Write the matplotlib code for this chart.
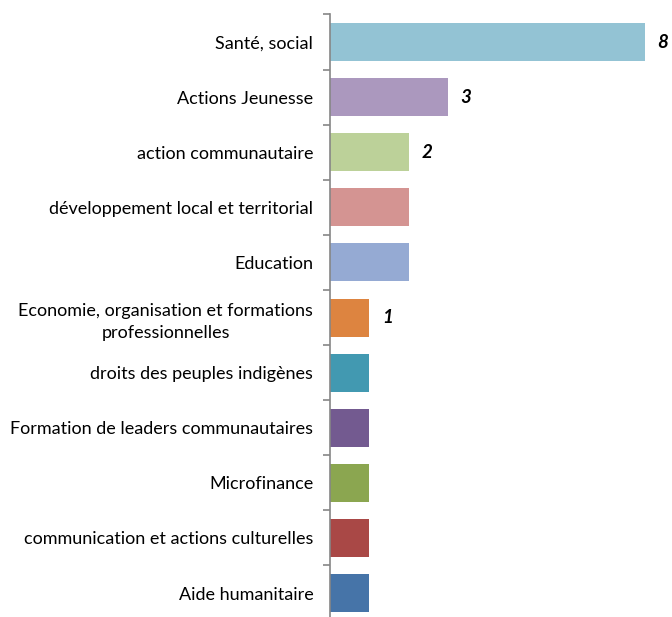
import matplotlib
matplotlib.use("Agg")
import matplotlib.pyplot as plt
import numpy as np

# categories, top to bottom
categories = ["Santé, social", "Actions Jeunesse", "action communautaire",
              "développement local et territorial", "Education",
              "Economie, organisation et formations\nprofessionnelles",
              "droits des peuples indigènes", "Formation de leaders communautaires",
              "Microfinance", "communication et actions culturelles",
              "Aide humanitaire"]
values = [8, 3, 2, 2, 2, 1, 1, 1, 1, 1, 1]
shown_labels = ["8", "3", "2", "", "", "1", "", "", "", "", ""]
colors = ["#93C3D4", "#AB98BE", "#BCD199", "#D49492", "#95AAD3", "#DD8440",
          "#4299B1", "#735A90", "#8BA650", "#A94846", "#4674A8"]

plt.rcParams['font.family'] = ['Lato', 'DejaVu Sans']

fig = plt.figure(figsize=(6.72, 6.17), dpi=100)
ax = fig.add_axes([0.491, -0.0058, 0.469, 0.9823])

y = np.arange(len(categories))
ax.barh(y, values, height=0.69, color=colors)
ax.set_yticks(y)
ax.set_yticklabels(categories, fontsize=13, ha='right', multialignment='center',
                   color='#000000', linespacing=1.45)
ax.tick_params(axis='y', which='major', length=0, pad=12)
ax.set_yticks(np.arange(len(categories) + 1) - 0.5, minor=True)
ax.tick_params(axis='y', which='minor', length=5, color='#868686', width=1.2)
ax.set_ylim(len(categories) - 0.5, -0.5)
ax.set_xlim(0, 8)
ax.set_xticks([])

for s in ['top', 'right', 'bottom']:
    ax.spines[s].set_visible(False)
ax.spines['left'].set_color('#868686')
ax.spines['left'].set_linewidth(1.2)

for yi, v, lab in zip(y, values, shown_labels):
    if lab:
        ax.annotate(lab, (v, yi), xytext=(9, 0), textcoords='offset points',
                    ha='left', va='center', fontsize=13.5, fontweight='bold',
                    fontstyle='italic', annotation_clip=False)

fig.savefig("out.png", dpi=100)
